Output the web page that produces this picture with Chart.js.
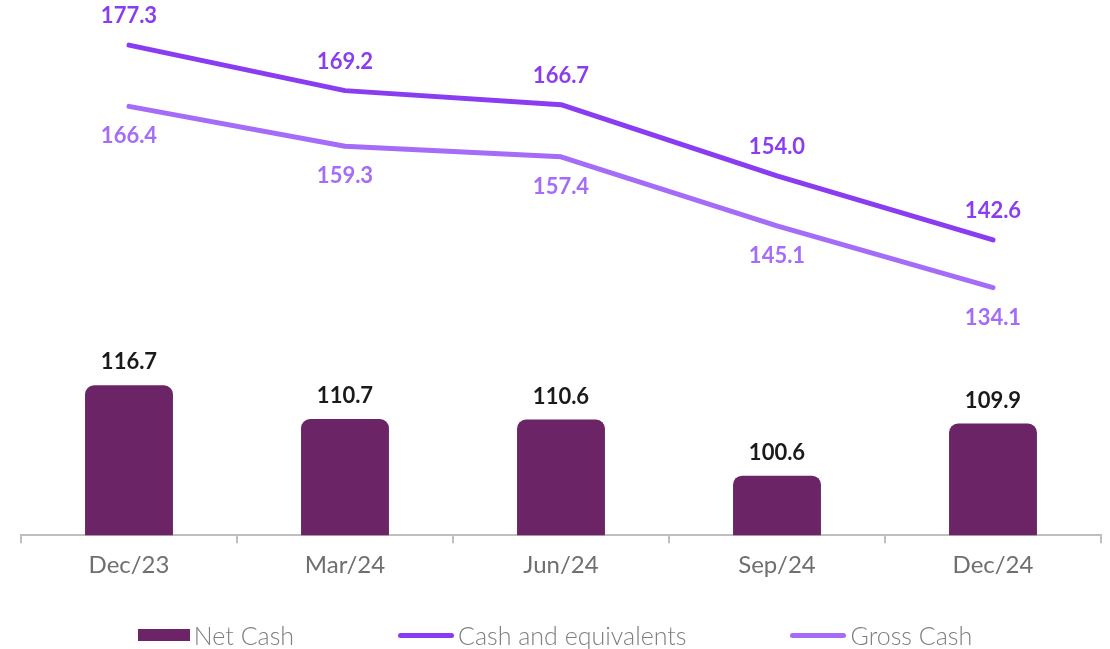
<!DOCTYPE html>
<html>
<head>
<meta charset="utf-8">
<script src="https://cdn.jsdelivr.net/npm/chart.js@4.4.1/dist/chart.umd.min.js"></script>
<style>
    html, body { margin: 0; padding: 0; background: #ffffff; }
    #wrap { position: relative; width: 1110px; height: 649px; }
    #legend {
        position: absolute; left: 0; top: 620px; width: 1110px; height: 30px;
        display: flex; justify-content: center; align-items: center; gap: 104px;
        font-family: Lato, "Open Sans", sans-serif; font-weight: 300; font-size: 25px; color: #7f7f7f;
    }
    .item { display: flex; align-items: center; gap: 4px; white-space: nowrap; }
    .swatch-box { width: 52px; height: 12px; }
    .swatch-line { width: 56px; height: 5px; border-radius: 3px; }
</style>
</head>
<body>
<div id="wrap">
    <canvas id="cashChart" width="1110" height="649"></canvas>
    <div id="legend"></div>
</div>
<script>
// データ
const periods = ['Dec/23', 'Mar/24', 'Jun/24', 'Sep/24', 'Dec/24'];
const netCash = [116.7, 110.7, 110.6, 100.6, 109.9];
const cashEquivalents = [177.3, 169.2, 166.7, 154.0, 142.6];
const grossCash = [166.4, 159.3, 157.4, 145.1, 134.1];

// 色
const barColor = '#6b2466';
const cashColor = '#8a3df0';
const grossColor = '#a46cf7';

/**
 * 値ラベル描画プラグイン
 */
const valueLabels = {
    id: 'valueLabels',
    afterDatasetsDraw(chart) {
        const ctx = chart.ctx;
        ctx.save();
        ctx.font = 'bold 22px Lato, "Open Sans", sans-serif';
        ctx.textAlign = 'center';
        ctx.textBaseline = 'middle';
        chart.data.datasets.forEach((ds, i) => {
            const meta = chart.getDatasetMeta(i);
            meta.data.forEach((el, j) => {
                let y = el.y - 29;
                if (ds.labelPos === 'below') y = el.y + 30;
                if (ds.type === 'bar') y = el.y - 23;
                ctx.fillStyle = ds.labelColor;
                ctx.fillText(ds.data[j].toFixed(1), el.x, y);
            });
        });
        ctx.restore();
    }
};

const ctx = document.getElementById('cashChart').getContext('2d');
const chart = new Chart(ctx, {
    data: {
        labels: periods,
        datasets: [
            {
                type: 'line',
                label: 'Cash and equivalents',
                data: cashEquivalents,
                borderColor: cashColor,
                borderWidth: 5,
                borderCapStyle: 'round',
                borderJoinStyle: 'round',
                pointRadius: 0,
                tension: 0,
                labelColor: cashColor,
                labelPos: 'above',
                order: 1,
            },
            {
                type: 'line',
                label: 'Gross Cash',
                data: grossCash,
                borderColor: grossColor,
                borderWidth: 5,
                borderCapStyle: 'round',
                borderJoinStyle: 'round',
                pointRadius: 0,
                tension: 0,
                labelColor: grossColor,
                labelPos: 'below',
                order: 2,
            },
            {
                type: 'bar',
                label: 'Net Cash',
                data: netCash,
                backgroundColor: barColor,
                borderRadius: 9,
                borderSkipped: 'bottom',
                categoryPercentage: 1,
                barPercentage: 0.407,
                labelColor: '#1a1a1a',
                order: 3,
            },
        ],
    },
    options: {
        responsive: false,
        animation: false,
        layout: { padding: { top: 30, left: 21, right: 9, bottom: 61 } },
        plugins: {
            legend: { display: false },
            tooltip: { enabled: false },
        },
        scales: {
            x: {
                offset: true,
                border: { display: true, color: '#bfbfbf', width: 2 },
                grid: {
                    offset: true,
                    drawOnChartArea: false,
                    drawTicks: true,
                    tickLength: 8,
                    color: '#bfbfbf',
                    lineWidth: 2,
                },
                ticks: {
                    padding: 8,
                    color: '#6f6f6f',
                    font: { family: 'Lato, "Open Sans", sans-serif', size: 24 },
                },
            },
            y: {
                display: false,
                min: 90,
                max: 180,
            },
        },
    },
    plugins: [valueLabels],
});

// 凡例
const legendEl = document.getElementById('legend');
const legendItems = [
    { text: 'Net Cash', color: barColor, cls: 'swatch-box' },
    { text: 'Cash and equivalents', color: cashColor, cls: 'swatch-line' },
    { text: 'Gross Cash', color: grossColor, cls: 'swatch-line' },
];
legendEl.innerHTML = legendItems
    .map(item => `<div class="item"><span class="${item.cls}" style="background:${item.color}"></span><span>${item.text}</span></div>`)
    .join('');
</script>
</body>
</html>
